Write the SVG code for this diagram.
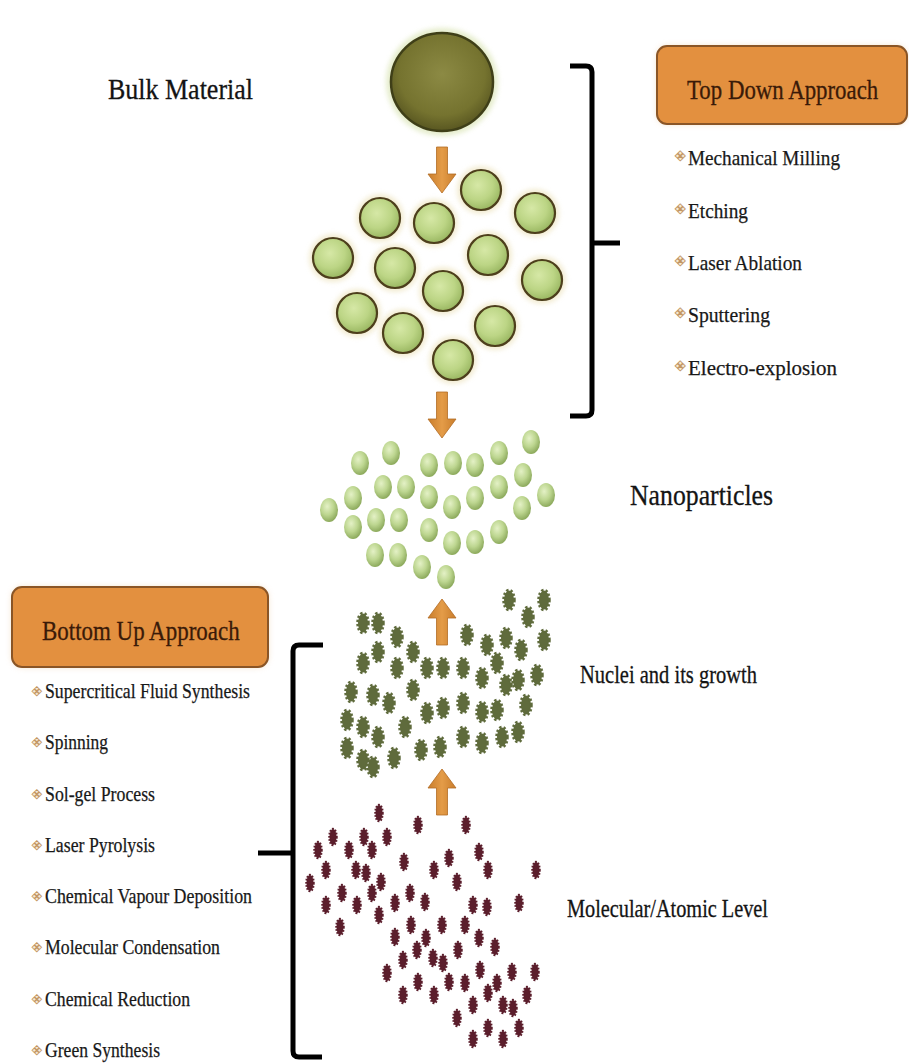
<svg xmlns="http://www.w3.org/2000/svg" xmlns:xlink="http://www.w3.org/1999/xlink" width="909" height="1063" viewBox="0 0 909 1063">
  <style>
    .lbl { font-family: "Liberation Serif", "Times New Roman", serif; fill: #141414; stroke: #141414; stroke-width: 0.3; }
    .head { font-family: "Liberation Serif", "Times New Roman", serif; fill: #3a1a08; stroke: #3a1a08; stroke-width: 0.3; font-size: 28px; }
    .item { font-family: "Liberation Serif", "Times New Roman", serif; fill: #181818; stroke: #181818; stroke-width: 0.25; }
    .bul { font-family: "DejaVu Sans", sans-serif; fill: #f6ead6; stroke: #c39663; stroke-width: 0.8; }
    .box { fill: #e3903f; stroke: #8a5526; stroke-width: 2; }
    .brace { fill: none; stroke: #000; stroke-width: 5; stroke-linecap: butt; stroke-linejoin: round; }
    .arrow { fill: url(#arrowFill); stroke: #b36c24; stroke-width: 0.8; }
    .mid { fill: url(#midBall); stroke: #4d3f1c; stroke-width: 2.2; }
    .halo { fill: #eadfb4; opacity: 0.6; filter: url(#soft); }
    .nano { fill: url(#nanoBall); filter: url(#slight); }
    .nuc { fill: #5f6b3c; stroke: #5f6b3c; stroke-width: 3.5; stroke-dasharray: 2.2 1.8; }
    .mol { fill: #5b1e2c; stroke: #5b1e2c; stroke-width: 2.5; stroke-dasharray: 1.6 1.4; }
  </style>
  <defs>
    <radialGradient id="bulkBall" cx="50%" cy="42%" r="60%">
      <stop offset="0" stop-color="#8c8a44"/>
      <stop offset="0.7" stop-color="#75732f"/>
      <stop offset="1" stop-color="#55531f"/>
    </radialGradient>
    <radialGradient id="midBall" cx="42%" cy="38%" r="62%">
      <stop offset="0" stop-color="#d6e8a6"/>
      <stop offset="0.6" stop-color="#bcd585"/>
      <stop offset="1" stop-color="#9bb863"/>
    </radialGradient>
    <radialGradient id="nanoBall" cx="40%" cy="35%" r="65%">
      <stop offset="0" stop-color="#e4f1c6"/>
      <stop offset="0.55" stop-color="#bdd690"/>
      <stop offset="1" stop-color="#8eab5e"/>
    </radialGradient>
    <linearGradient id="arrowFill" x1="0" y1="0" x2="1" y2="0">
      <stop offset="0" stop-color="#c97d2c"/>
      <stop offset="0.5" stop-color="#e49c48"/>
      <stop offset="1" stop-color="#c97d2c"/>
    </linearGradient>
    <filter id="soft" x="-30%" y="-30%" width="160%" height="160%">
      <feGaussianBlur stdDeviation="2.5"/>
    </filter>
    <filter id="slight" x="-30%" y="-30%" width="160%" height="160%">
      <feGaussianBlur stdDeviation="0.6"/>
    </filter>
    <filter id="boxGlow" x="-10%" y="-20%" width="120%" height="140%">
      <feGaussianBlur stdDeviation="3"/>
    </filter>
    <path id="arrowDown" d="M-5.5,0 H5.5 V27 H14 L0,46 L-14,27 H-5.5 Z"/>
    <ellipse id="nucShape" class="nuc" cx="0" cy="0" rx="5" ry="9.5"/>
    <ellipse id="molShape" class="mol" cx="0" cy="0" rx="3.5" ry="8"/>
  </defs>

  <rect width="909" height="1063" fill="#ffffff"/>

  <!-- bulk material -->
  <g id="bulk-material">
    <ellipse cx="442" cy="82" rx="56" ry="54" fill="#dfe8bf" opacity="0.8" filter="url(#soft)"/>
    <ellipse cx="442" cy="82" rx="51" ry="49" fill="url(#bulkBall)" stroke="#3f3f18" stroke-width="2.5"/>
    <text class="lbl" x="108" y="99" font-size="30" textLength="145" lengthAdjust="spacingAndGlyphs">Bulk Material</text>
  </g>

  <!-- fragments after milling -->
  <g id="fragments">
    <g class="halos">
      <circle class="halo" cx="380" cy="218" r="24"/>
      <circle class="halo" cx="434" cy="223" r="24"/>
      <circle class="halo" cx="481" cy="190" r="24"/>
      <circle class="halo" cx="535" cy="213" r="24"/>
      <circle class="halo" cx="333" cy="258" r="24"/>
      <circle class="halo" cx="395" cy="268" r="24"/>
      <circle class="halo" cx="488" cy="255" r="24"/>
      <circle class="halo" cx="542" cy="280" r="24"/>
      <circle class="halo" cx="443" cy="291" r="24"/>
      <circle class="halo" cx="357" cy="313" r="24"/>
      <circle class="halo" cx="403" cy="333" r="24"/>
      <circle class="halo" cx="495" cy="326" r="24"/>
      <circle class="halo" cx="453" cy="360" r="24"/>
    </g>
    <circle class="mid" cx="380" cy="218" r="20"/>
    <circle class="mid" cx="434" cy="223" r="20"/>
    <circle class="mid" cx="481" cy="190" r="20"/>
    <circle class="mid" cx="535" cy="213" r="20"/>
    <circle class="mid" cx="333" cy="258" r="20"/>
    <circle class="mid" cx="395" cy="268" r="20"/>
    <circle class="mid" cx="488" cy="255" r="20"/>
    <circle class="mid" cx="542" cy="280" r="20"/>
    <circle class="mid" cx="443" cy="291" r="20"/>
    <circle class="mid" cx="357" cy="313" r="20"/>
    <circle class="mid" cx="403" cy="333" r="20"/>
    <circle class="mid" cx="495" cy="326" r="20"/>
    <circle class="mid" cx="453" cy="360" r="20"/>
  </g>

  <!-- nanoparticles -->
  <g id="nanoparticles">
    <ellipse class="nano" cx="360" cy="463" rx="9" ry="12"/>
    <ellipse class="nano" cx="391" cy="453" rx="9" ry="12"/>
    <ellipse class="nano" cx="429" cy="465" rx="9" ry="12"/>
    <ellipse class="nano" cx="453" cy="463" rx="9" ry="12"/>
    <ellipse class="nano" cx="475" cy="465" rx="9" ry="12"/>
    <ellipse class="nano" cx="499" cy="453" rx="9" ry="12"/>
    <ellipse class="nano" cx="531" cy="442" rx="9" ry="12"/>
    <ellipse class="nano" cx="383" cy="487" rx="9" ry="12"/>
    <ellipse class="nano" cx="406" cy="487" rx="9" ry="12"/>
    <ellipse class="nano" cx="523" cy="475" rx="9" ry="12"/>
    <ellipse class="nano" cx="499" cy="487" rx="9" ry="12"/>
    <ellipse class="nano" cx="353" cy="498" rx="9" ry="12"/>
    <ellipse class="nano" cx="429" cy="497" rx="9" ry="12"/>
    <ellipse class="nano" cx="475" cy="498" rx="9" ry="12"/>
    <ellipse class="nano" cx="546" cy="495" rx="9" ry="12"/>
    <ellipse class="nano" cx="329" cy="510" rx="9" ry="12"/>
    <ellipse class="nano" cx="452" cy="507" rx="9" ry="12"/>
    <ellipse class="nano" cx="522" cy="508" rx="9" ry="12"/>
    <ellipse class="nano" cx="353" cy="527" rx="9" ry="12"/>
    <ellipse class="nano" cx="376" cy="520" rx="9" ry="12"/>
    <ellipse class="nano" cx="399" cy="520" rx="9" ry="12"/>
    <ellipse class="nano" cx="429" cy="530" rx="9" ry="12"/>
    <ellipse class="nano" cx="499" cy="532" rx="9" ry="12"/>
    <ellipse class="nano" cx="452" cy="543" rx="9" ry="12"/>
    <ellipse class="nano" cx="475" cy="542" rx="9" ry="12"/>
    <ellipse class="nano" cx="375" cy="555" rx="9" ry="12"/>
    <ellipse class="nano" cx="398" cy="555" rx="9" ry="12"/>
    <ellipse class="nano" cx="422" cy="567" rx="9" ry="12"/>
    <ellipse class="nano" cx="446" cy="577" rx="9" ry="12"/>
    <text class="lbl" x="630" y="505" font-size="30" textLength="143" lengthAdjust="spacingAndGlyphs">Nanoparticles</text>
  </g>

  <!-- nuclei and growth -->
  <g id="nuclei">
    <use xlink:href="#nucShape" x="363" y="623"/>
    <use xlink:href="#nucShape" x="378" y="623"/>
    <use xlink:href="#nucShape" x="397" y="637"/>
    <use xlink:href="#nucShape" x="413" y="652"/>
    <use xlink:href="#nucShape" x="363" y="663"/>
    <use xlink:href="#nucShape" x="378" y="652"/>
    <use xlink:href="#nucShape" x="397" y="668"/>
    <use xlink:href="#nucShape" x="427" y="668"/>
    <use xlink:href="#nucShape" x="443" y="668"/>
    <use xlink:href="#nucShape" x="463" y="668"/>
    <use xlink:href="#nucShape" x="467" y="635"/>
    <use xlink:href="#nucShape" x="487" y="645"/>
    <use xlink:href="#nucShape" x="506" y="638"/>
    <use xlink:href="#nucShape" x="509" y="600"/>
    <use xlink:href="#nucShape" x="528" y="617"/>
    <use xlink:href="#nucShape" x="544" y="600"/>
    <use xlink:href="#nucShape" x="544" y="640"/>
    <use xlink:href="#nucShape" x="521" y="650"/>
    <use xlink:href="#nucShape" x="497" y="663"/>
    <use xlink:href="#nucShape" x="482" y="678"/>
    <use xlink:href="#nucShape" x="506" y="685"/>
    <use xlink:href="#nucShape" x="518" y="680"/>
    <use xlink:href="#nucShape" x="537" y="675"/>
    <use xlink:href="#nucShape" x="351" y="692"/>
    <use xlink:href="#nucShape" x="373" y="695"/>
    <use xlink:href="#nucShape" x="389" y="703"/>
    <use xlink:href="#nucShape" x="413" y="690"/>
    <use xlink:href="#nucShape" x="463" y="703"/>
    <use xlink:href="#nucShape" x="482" y="712"/>
    <use xlink:href="#nucShape" x="497" y="710"/>
    <use xlink:href="#nucShape" x="526" y="705"/>
    <use xlink:href="#nucShape" x="427" y="713"/>
    <use xlink:href="#nucShape" x="443" y="708"/>
    <use xlink:href="#nucShape" x="347" y="720"/>
    <use xlink:href="#nucShape" x="363" y="727"/>
    <use xlink:href="#nucShape" x="378" y="737"/>
    <use xlink:href="#nucShape" x="405" y="727"/>
    <use xlink:href="#nucShape" x="463" y="737"/>
    <use xlink:href="#nucShape" x="482" y="743"/>
    <use xlink:href="#nucShape" x="502" y="737"/>
    <use xlink:href="#nucShape" x="518" y="732"/>
    <use xlink:href="#nucShape" x="347" y="748"/>
    <use xlink:href="#nucShape" x="363" y="760"/>
    <use xlink:href="#nucShape" x="373" y="767"/>
    <use xlink:href="#nucShape" x="394" y="758"/>
    <use xlink:href="#nucShape" x="421" y="750"/>
    <use xlink:href="#nucShape" x="440" y="747"/>
    <text class="lbl" x="580" y="683" font-size="25" textLength="177" lengthAdjust="spacingAndGlyphs">Nuclei and its growth</text>
  </g>

  <!-- molecular / atomic level -->
  <g id="molecular">
    <use xlink:href="#molShape" x="379" y="813"/>
    <use xlink:href="#molShape" x="418" y="825"/>
    <use xlink:href="#molShape" x="466" y="825"/>
    <use xlink:href="#molShape" x="333" y="837"/>
    <use xlink:href="#molShape" x="364" y="837"/>
    <use xlink:href="#molShape" x="387" y="837"/>
    <use xlink:href="#molShape" x="318" y="850"/>
    <use xlink:href="#molShape" x="349" y="850"/>
    <use xlink:href="#molShape" x="372" y="850"/>
    <use xlink:href="#molShape" x="479" y="852"/>
    <use xlink:href="#molShape" x="404" y="862"/>
    <use xlink:href="#molShape" x="449" y="858"/>
    <use xlink:href="#molShape" x="326" y="870"/>
    <use xlink:href="#molShape" x="356" y="870"/>
    <use xlink:href="#molShape" x="366" y="873"/>
    <use xlink:href="#molShape" x="434" y="870"/>
    <use xlink:href="#molShape" x="488" y="870"/>
    <use xlink:href="#molShape" x="536" y="870"/>
    <use xlink:href="#molShape" x="310" y="883"/>
    <use xlink:href="#molShape" x="381" y="882"/>
    <use xlink:href="#molShape" x="457" y="882"/>
    <use xlink:href="#molShape" x="342" y="893"/>
    <use xlink:href="#molShape" x="372" y="893"/>
    <use xlink:href="#molShape" x="410" y="893"/>
    <use xlink:href="#molShape" x="326" y="905"/>
    <use xlink:href="#molShape" x="357" y="905"/>
    <use xlink:href="#molShape" x="395" y="903"/>
    <use xlink:href="#molShape" x="425" y="902"/>
    <use xlink:href="#molShape" x="473" y="905"/>
    <use xlink:href="#molShape" x="487" y="907"/>
    <use xlink:href="#molShape" x="519" y="903"/>
    <use xlink:href="#molShape" x="379" y="915"/>
    <use xlink:href="#molShape" x="340" y="927"/>
    <use xlink:href="#molShape" x="411" y="925"/>
    <use xlink:href="#molShape" x="442" y="925"/>
    <use xlink:href="#molShape" x="465" y="925"/>
    <use xlink:href="#molShape" x="395" y="937"/>
    <use xlink:href="#molShape" x="426" y="938"/>
    <use xlink:href="#molShape" x="479" y="938"/>
    <use xlink:href="#molShape" x="417" y="950"/>
    <use xlink:href="#molShape" x="458" y="950"/>
    <use xlink:href="#molShape" x="495" y="947"/>
    <use xlink:href="#molShape" x="403" y="960"/>
    <use xlink:href="#molShape" x="433" y="958"/>
    <use xlink:href="#molShape" x="443" y="963"/>
    <use xlink:href="#molShape" x="480" y="970"/>
    <use xlink:href="#molShape" x="512" y="972"/>
    <use xlink:href="#molShape" x="535" y="972"/>
    <use xlink:href="#molShape" x="387" y="973"/>
    <use xlink:href="#molShape" x="418" y="982"/>
    <use xlink:href="#molShape" x="449" y="982"/>
    <use xlink:href="#molShape" x="465" y="983"/>
    <use xlink:href="#molShape" x="497" y="983"/>
    <use xlink:href="#molShape" x="403" y="995"/>
    <use xlink:href="#molShape" x="434" y="995"/>
    <use xlink:href="#molShape" x="488" y="993"/>
    <use xlink:href="#molShape" x="527" y="995"/>
    <use xlink:href="#molShape" x="473" y="1005"/>
    <use xlink:href="#molShape" x="503" y="1005"/>
    <use xlink:href="#molShape" x="513" y="1008"/>
    <use xlink:href="#molShape" x="457" y="1018"/>
    <use xlink:href="#molShape" x="488" y="1028"/>
    <use xlink:href="#molShape" x="519" y="1028"/>
    <use xlink:href="#molShape" x="473" y="1039"/>
    <use xlink:href="#molShape" x="503" y="1039"/>
    <text class="lbl" x="567" y="917" font-size="25" textLength="201" lengthAdjust="spacingAndGlyphs">Molecular/Atomic Level</text>
  </g>

  <!-- top-down methods -->
  <g id="top-down">
    <rect x="657" y="46" width="250" height="78" rx="10" fill="#e9c9a0" opacity="0.6" filter="url(#boxGlow)"/>
    <rect class="box" x="657" y="46" width="250" height="78" rx="10"/>
    <g transform="translate(687,99) scale(0.8,1)">
      <text class="head" x="0" y="0" textLength="239" lengthAdjust="spacingAndGlyphs">Top Down Approach</text>
    </g>
    <text class="bul" x="674" y="161" font-size="14">❖</text>
    <text class="item" x="688" y="165" font-size="22" textLength="152" lengthAdjust="spacingAndGlyphs">Mechanical Milling</text>
    <text class="bul" x="674" y="214" font-size="14">❖</text>
    <text class="item" x="688" y="218" font-size="22" textLength="60" lengthAdjust="spacingAndGlyphs">Etching</text>
    <text class="bul" x="674" y="266" font-size="14">❖</text>
    <text class="item" x="688" y="270" font-size="22" textLength="114" lengthAdjust="spacingAndGlyphs">Laser Ablation</text>
    <text class="bul" x="674" y="318" font-size="14">❖</text>
    <text class="item" x="688" y="322" font-size="22" textLength="82" lengthAdjust="spacingAndGlyphs">Sputtering</text>
    <text class="bul" x="674" y="371" font-size="14">❖</text>
    <text class="item" x="688" y="375" font-size="22" textLength="149" lengthAdjust="spacingAndGlyphs">Electro-explosion</text>
  </g>

  <!-- bottom-up methods -->
  <g id="bottom-up">
    <rect x="12" y="587" width="256" height="80" rx="10" fill="#e9c9a0" opacity="0.6" filter="url(#boxGlow)"/>
    <rect class="box" x="12" y="587" width="256" height="80" rx="10"/>
    <g transform="translate(42,640) scale(0.8,1)">
      <text class="head" x="0" y="0" textLength="247" lengthAdjust="spacingAndGlyphs">Bottom Up Approach</text>
    </g>
    <text class="bul" x="31" y="696" font-size="13">❖</text>
    <text class="item" x="45" y="698" font-size="21" textLength="205" lengthAdjust="spacingAndGlyphs">Supercritical Fluid Synthesis</text>
    <text class="bul" x="31" y="747" font-size="13">❖</text>
    <text class="item" x="45" y="749" font-size="21" textLength="63" lengthAdjust="spacingAndGlyphs">Spinning</text>
    <text class="bul" x="31" y="799" font-size="13">❖</text>
    <text class="item" x="45" y="801" font-size="21" textLength="110" lengthAdjust="spacingAndGlyphs">Sol-gel Process</text>
    <text class="bul" x="31" y="850" font-size="13">❖</text>
    <text class="item" x="45" y="852" font-size="21" textLength="110" lengthAdjust="spacingAndGlyphs">Laser Pyrolysis</text>
    <text class="bul" x="31" y="901" font-size="13">❖</text>
    <text class="item" x="45" y="903" font-size="21" textLength="207" lengthAdjust="spacingAndGlyphs">Chemical Vapour Deposition</text>
    <text class="bul" x="31" y="952" font-size="13">❖</text>
    <text class="item" x="45" y="954" font-size="21" textLength="175" lengthAdjust="spacingAndGlyphs">Molecular Condensation</text>
    <text class="bul" x="31" y="1004" font-size="13">❖</text>
    <text class="item" x="45" y="1006" font-size="21" textLength="145" lengthAdjust="spacingAndGlyphs">Chemical Reduction</text>
    <text class="bul" x="31" y="1055" font-size="13">❖</text>
    <text class="item" x="45" y="1057" font-size="21" textLength="115" lengthAdjust="spacingAndGlyphs">Green Synthesis</text>
  </g>

  <!-- arrows and braces -->
  <g id="connectors">
    <use xlink:href="#arrowDown" class="arrow" transform="translate(442,147)"/>
    <use xlink:href="#arrowDown" class="arrow" transform="translate(442,392)"/>
    <use xlink:href="#arrowDown" class="arrow" transform="translate(442,645) scale(1,-1)"/>
    <use xlink:href="#arrowDown" class="arrow" transform="translate(442,815) scale(1,-1)"/>
    <path class="brace" d="M570,66 H586 Q592,66 592,72 V410 Q592,416 586,416 H570 M592,243 H620"/>
    <path class="brace" d="M323,645 H299 Q293,645 293,651 V1051 Q293,1057 299,1057 H322 M293,853 H258"/>
  </g>
</svg>
